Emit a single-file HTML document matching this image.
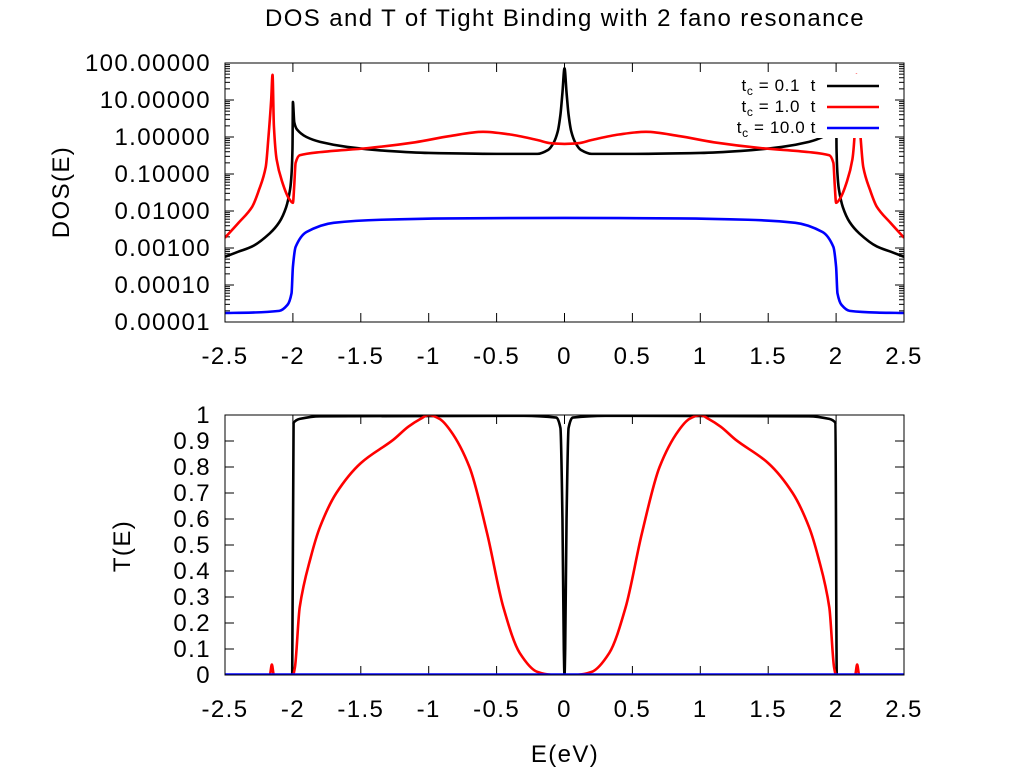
<!DOCTYPE html>
<html><head><meta charset="utf-8"><style>
body{margin:0;background:#fff;}
svg text{font-family:"Liberation Sans",sans-serif;fill:#000;}
.big{font-size:24px;letter-spacing:1.4px;}
</style></head><body>
<svg id="chart" width="1024" height="768" xmlns="http://www.w3.org/2000/svg">
<text class="big" x="565" y="26" text-anchor="middle">DOS and T of Tight Binding with 2 fano resonance</text>
<text class="big" x="0" y="0" text-anchor="middle" transform="translate(69,192) rotate(-90)">DOS(E)</text>
<text class="big" x="0" y="0" text-anchor="middle" transform="translate(130,546) rotate(-90)">T(E)</text>
<text class="big" x="565" y="762" text-anchor="middle">E(eV)</text>
<g id="top"></g><g id="bot"></g>
</svg>
<script>
const NS="http://www.w3.org/2000/svg";
const xTicks=[-2.5,-2,-1.5,-1,-0.5,0,0.5,1,1.5,2,2.5];
const xTickLabels=["-2.5","-2","-1.5","-1","-0.5","0","0.5","1","1.5","2","2.5"];
const dosTicks=[1e-5,1e-4,1e-3,1e-2,1e-1,1,10,100];
const dosTickLabels=["0.00001","0.00010","0.00100","0.01000","0.10000","1.00000","10.00000","100.00000"];
const tTicks=[0,0.1,0.2,0.3,0.4,0.5,0.6,0.7,0.8,0.9,1];
const tTickLabels=["0","0.1","0.2","0.3","0.4","0.5","0.6","0.7","0.8","0.9","1"];
const seriesColors=["#000000","#ff0000","#0000ff"];
// DOS data
const eDos1=[-2.5,-2.4,-2.3,-2.17,-2.1,-2.05,-2.02,-2.01,-2.003,-2.0,-1.99,-1.97,-1.9,-1.8,-1.6,-1.3,-1.0,-0.5,-0.2,-0.12,-0.08,-0.05,-0.03,-0.015,0,0.015,0.03,0.05,0.08,0.12,0.2,0.5,1.0,1.3,1.6,1.8,1.9,1.97,1.99,2.0,2.003,2.01,2.02,2.05,2.1,2.17,2.3,2.4,2.5];
const dos1=[0.00058,0.0008,0.0011,0.0025,0.005,0.0126,0.04,0.1,0.5,8.9,2.5,1.6,1.0,0.74,0.54,0.42,0.37,0.35,0.35,0.45,0.7,1.4,4,16,72,16,4,1.4,0.7,0.45,0.35,0.35,0.37,0.42,0.54,0.74,1.0,1.6,2.5,8.9,0.5,0.1,0.04,0.0126,0.005,0.0025,0.0011,0.0008,0.00058];
const eDos2=[-2.5,-2.4,-2.3,-2.25,-2.2,-2.18,-2.16,-2.15,-2.14,-2.12,-2.08,-2.03,-2.0,-1.99,-1.98,-1.95,-1.8,-1.45,-1.1,-0.85,-0.6,-0.4,-0.2,-0.1,0,0.1,0.2,0.4,0.6,0.85,1.1,1.45,1.8,1.95,1.98,1.99,2.0,2.03,2.08,2.12,2.14,2.15,2.16,2.18,2.2,2.25,2.3,2.4,2.5];
const dos2=[0.0019,0.0048,0.013,0.037,0.155,1.0,10,48,2.0,0.25,0.063,0.022,0.0166,0.05,0.2,0.32,0.39,0.5,0.72,1.05,1.38,1.17,0.83,0.68,0.65,0.68,0.83,1.17,1.38,1.05,0.72,0.5,0.39,0.32,0.2,0.05,0.0166,0.022,0.063,0.25,2.0,48,10,1.0,0.155,0.037,0.013,0.0048,0.0019];
const eDos3=[-2.5,-2.3,-2.1,-2.04,-2.01,-2.0,-1.98,-1.9,-1.7,-1.35,-0.85,0,0.85,1.35,1.7,1.9,1.98,2.0,2.01,2.04,2.1,2.3,2.5];
const dos3=[1.75e-5,1.8e-5,2.0e-5,2.9e-5,6e-5,3.1e-4,1.07e-3,2.7e-3,4.8e-3,5.8e-3,6.3e-3,6.5e-3,6.3e-3,5.8e-3,4.8e-3,2.7e-3,1.07e-3,3.1e-4,6e-5,2.9e-5,2.0e-5,1.8e-5,1.75e-5];
// Transmission data
const eT1=[-2.5,-2.005,-1.995,-1.95,-1.8,-0.3,-0.06,-0.03,-0.015,-0.005,0,0.005,0.015,0.03,0.06,0.3,1.8,1.95,1.995,2.005,2.5];
const t1=[0,0,0.97,0.985,0.995,0.997,0.99,0.95,0.6,0.1,0,0.1,0.6,0.95,0.99,0.997,0.995,0.985,0.97,0,0];
const eT2=[-2.5,-2.17,-2.155,-2.14,-2.0,-1.985,-1.95,-1.87,-1.8,-1.68,-1.5,-1.26,-1.15,-1.06,-1.0,-0.92,-0.84,-0.7,-0.57,-0.45,-0.33,-0.2,-0.1,0,0.1,0.2,0.33,0.45,0.57,0.7,0.84,0.92,1.0,1.06,1.15,1.26,1.5,1.68,1.8,1.87,1.95,1.985,2.0,2.14,2.155,2.17,2.5];
const t2=[0,0,0.04,0,0,0.03,0.26,0.45,0.57,0.70,0.815,0.905,0.955,0.985,1.0,0.985,0.94,0.80,0.545,0.26,0.085,0.012,0.001,0,0.001,0.012,0.085,0.26,0.545,0.80,0.94,0.985,1.0,0.985,0.955,0.905,0.815,0.70,0.57,0.45,0.26,0.03,0,0,0.04,0,0];
const eT3=[-2.5,2.5];
const t3=[0.002,0.002];

const L=225,R=904;
const xs=e=>L+(e+2.5)/5*(R-L);
const T1=63,B1=322;
const yDos=v=>B1-(Math.log10(v)+5)/7*(B1-T1);
const T2=415,B2=675;
const yT=v=>B2-v*(B2-T2);

function mk(tag,attrs,parent){const el=document.createElementNS(NS,tag);for(const k in attrs)el.setAttribute(k,attrs[k]);parent.appendChild(el);return el;}
function line(p,x1,y1,x2,y2){mk('line',{x1,y1,x2,y2,stroke:'#000','stroke-width':1},p);}

function frame(g,T,B,yTicksV,yLabels,yf,logMinor,labelY,name){
  const clipId='clip-'+name;
  const cp=mk('clipPath',{id:clipId},g);mk('rect',{x:L,y:T,width:R-L,height:B-T},cp);
  xTicks.forEach((t,i)=>{const x=xs(t);line(g,x,B,x,B-9);line(g,x,T,x,T+9);
    const tx=mk('text',{x:x,y:labelY,'class':'big','text-anchor':'middle'},g);tx.textContent=xTickLabels[i];
    
    });
  yTicksV.forEach((t,i)=>{const y=yf(t);line(g,L,y,L+9,y);line(g,R,y,R-9,y);
    const tx=mk('text',{x:211,y:y+8,'class':'big','text-anchor':'end'},g);tx.textContent=yLabels[i];
    
    
    if(logMinor&&i<yTicksV.length-1){for(let m=2;m<10;m++){const ym=yf(t*m);line(g,L,ym,L+5,ym);line(g,R,ym,R-5,ym);}}});
  return clipId;
}
function monoPath(P){
  const n=P.length;if(n<3){return 'M'+P.map(p=>p[0].toFixed(1)+','+p[1].toFixed(1)).join('L');}
  const d=[],m=[];
  for(let i=0;i<n-1;i++){const dx=P[i+1][0]-P[i][0];d.push(dx>0?(P[i+1][1]-P[i][1])/dx:0);}
  m[0]=d[0];m[n-1]=d[n-2];
  for(let i=1;i<n-1;i++){m[i]=(d[i-1]*d[i]<=0)?0:2/(1/d[i-1]+1/d[i]);}
  let s='M'+P[0][0].toFixed(2)+','+P[0][1].toFixed(2);
  for(let i=0;i<n-1;i++){const h=(P[i+1][0]-P[i][0])/3;
    s+='C'+(P[i][0]+h).toFixed(2)+','+(P[i][1]+m[i]*h).toFixed(2)+' '+(P[i+1][0]-h).toFixed(2)+','+(P[i+1][1]-m[i+1]*h).toFixed(2)+' '+P[i+1][0].toFixed(2)+','+P[i+1][1].toFixed(2);}
  return s;
}
function series(g,clipId,ex,vy,yf,color,name){
  const P=ex.map((e,i)=>[xs(e),yf(vy[i])]);
  const pl=mk('path',{d:monoPath(P),fill:'none',stroke:color,'stroke-width':2.6,'stroke-linejoin':'round','clip-path':'url(#'+clipId+')'},g);
  
  
}
const gt=document.getElementById('top');


const c1=frame(gt,T1,B1,dosTicks,dosTickLabels,yDos,true,364,'top');
series(gt,c1,eDos1,dos1,yDos,seriesColors[0],'dos-line-tc-0-1');
series(gt,c1,eDos2,dos2,yDos,seriesColors[1],'dos-line-tc-1-0');
series(gt,c1,eDos3,dos3,yDos,seriesColors[2],'dos-line-tc-10-0');
mk('rect',{x:L,y:T1,width:R-L,height:B1-T1,fill:'none',stroke:'#000','stroke-width':1},gt);
// legend
const lg=mk('g',{},gt);


mk('rect',{x:728,y:74,width:164,height:64,fill:'#fff'},lg);
const labs=["0.1&#160; t","1.0&#160; t","10.0 t"];
[86,107,128].forEach((y,i)=>{
  const t=mk('text',{x:816,y:y+5,'font-size':17,'letter-spacing':'0.6','text-anchor':'end'},lg);
  t.innerHTML='t<tspan font-size="12" dy="4">c</tspan><tspan dy="-4"> = '+labs[i]+'</tspan>';
  
  
  const ln=mk('line',{x1:827,y1:y,x2:879,y2:y,stroke:seriesColors[i],'stroke-width':2.6},lg);
  
  
});
const gb=document.getElementById('bot');


const c2=frame(gb,T2,B2,tTicks,tTickLabels,yT,false,717,'bot');
series(gb,c2,eT1,t1,yT,seriesColors[0],'t-line-tc-0-1');
series(gb,c2,eT2,t2,yT,seriesColors[1],'t-line-tc-1-0');
series(gb,c2,eT3,t3,yT,seriesColors[2],'t-line-tc-10-0');
mk('rect',{x:L,y:T2,width:R-L,height:B2-T2,fill:'none',stroke:'#000','stroke-width':1},gb);
</script>
</body></html>
